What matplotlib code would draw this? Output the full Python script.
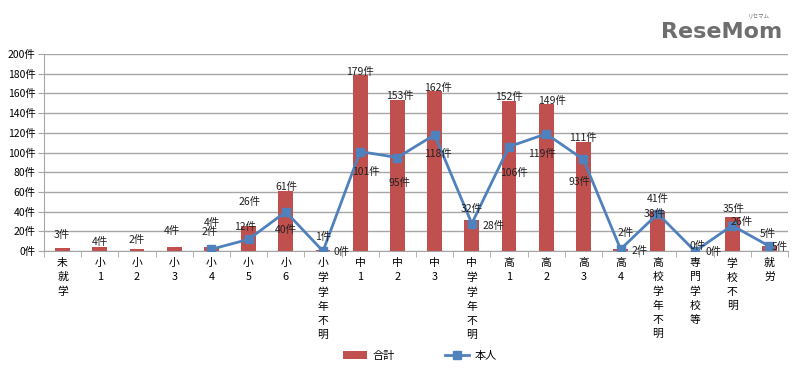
import matplotlib
matplotlib.use("Agg")
import matplotlib.pyplot as plt
import numpy as np

plt.rcParams['font.family'] = ['Noto Sans CJK JP', 'DejaVu Sans']

categories = ["未就学", "小1", "小2", "小3", "小4", "小5", "小6", "小学学年不明",
              "中1", "中2", "中3", "中学学年不明", "高1", "高2", "高3", "高4",
              "高校学年不明", "専門学校等", "学校不明", "就労"]
total = [3, 4, 2, 4, 4, 26, 61, 1, 179, 153, 162, 32, 152, 149, 111, 2, 41, 0, 35, 5]
self_person = [None, None, None, None, 2, 12, 40, 0, 101, 95, 118, 28, 106, 119, 93, 2, 38, 0, 26, 5]
yticks = [0, 20, 40, 60, 80, 100, 120, 140, 160, 180, 200]

# label offsets in pixels (style only)
total_off = [(-1, 13), (0, 5), (0, 9), (-2, 16), (1, 24), (1, 24), (1, 4), (0, 13),
             (0, 3), (2, 4), (3, 3), (0, 11), (0, 4), (6, 3), (-1, 4), (5, 16),
             (0, 12), (3, 5), (1, 8), (-2, 12)]
self_off = [None, None, None, None, (-2, 17), (-4, 12), (0, -18), (19, -1),
            (6, -20), (2, -25), (3, -19), (22, -2), (5, -26), (-4, -20), (-4, -22), (19, -2),
            (-3, 0), (19, -1), (9, 4), (10, -1)]

RED = "#C0504D"
BLUE = "#4F81BD"

def vlabel(s):
    out = []
    for ch in s:
        if ch.isdigit() and out and out[-1].isdigit():
            out[-1] += ch
        else:
            out.append(ch)
    return "\n".join(out)

fig = plt.figure(figsize=(8, 3.8), dpi=100)
ax = fig.add_axes([0.055, 0.339, 0.93, 0.519])

x = np.arange(len(categories))
bars = ax.bar(x, total, width=0.4, color=RED, zorder=2, label="合計")

sx = [i for i, v in enumerate(self_person) if v is not None]
sy = [v for v in self_person if v is not None]
line, = ax.plot(sx, sy, color=BLUE, lw=2.0, marker="s", markersize=6, zorder=3, label="本人")

for i, v in enumerate(total):
    dx, dy = total_off[i]
    ax.annotate(f"{v}件", (x[i], v), xytext=(dx, dy), textcoords="offset pixels",
                ha="center", va="center", fontsize=7.5, color="#222222", zorder=4)
for i, v in enumerate(self_person):
    if v is None:
        continue
    dx, dy = self_off[i]
    ax.annotate(f"{v}件", (x[i], v), xytext=(dx, dy), textcoords="offset pixels",
                ha="center", va="center", fontsize=7.5, color="#222222", zorder=4)

ax.set_xlim(-0.5, len(categories) - 0.5)
ax.set_ylim(0, 200)
ax.set_yticks(yticks)
ax.set_yticklabels([f"{t}件" for t in yticks], fontsize=7.5)
ax.yaxis.grid(True, color="#A6A6A6", lw=1.0, zorder=0)
ax.set_axisbelow(True)

ax.set_xticks(x)
ax.set_xticklabels([vlabel(c) for c in categories], fontsize=7.8, linespacing=1.5, va="top")
ax.tick_params(axis="x", length=0, pad=5)
ax.set_xticks(np.arange(-0.5, len(categories), 1), minor=True)
ax.tick_params(axis="x", which="minor", length=4, color="#A6A6A6")
ax.tick_params(axis="y", length=4, color="#A6A6A6", pad=2)

for s in ["top", "right"]:
    ax.spines[s].set_visible(False)
ax.spines["left"].set_color("#A6A6A6")
ax.spines["bottom"].set_color("#A6A6A6")

fig.legend(handles=[bars, line], labels=["合計", "本人"], loc="center",
           bbox_to_anchor=(0.525, 0.063), ncol=2, frameon=False,
           fontsize=8, handlelength=2.2, columnspacing=4.5, handletextpad=0.5)

fig.text(0.978, 0.915, "ReseMom", ha="right", va="center", fontsize=16, fontweight="bold",
         color="#6E6E6E", family=["DejaVu Sans"])
fig.text(0.962, 0.955, "リセマム", ha="right", va="center", fontsize=4, color="#6E6E6E")

fig.savefig("out.png", dpi=100)
